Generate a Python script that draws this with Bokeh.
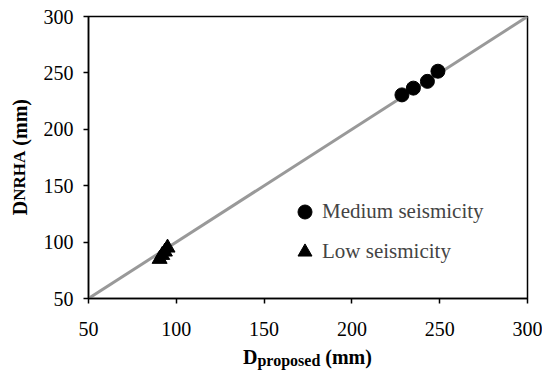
from bokeh.plotting import figure
from bokeh.models import Legend, LegendItem, Range1d, FixedTicker, Div
from bokeh.layouts import column, row
from bokeh.embed import file_html
from bokeh.resources import INLINE

# data
medium_x = [228.5, 235.0, 243.0, 249.0]
medium_y = [230.5, 236.5, 242.5, 251.5]
low_x = [90.5, 92.0, 93.5, 95.0]
low_y = [85.0, 88.5, 91.5, 95.0]
line_x = [50, 300]
line_y = [50, 300]
ticks = [50, 100, 150, 200, 250, 300]
series_labels = ["Medium seismicity", "Low seismicity"]

SERIF = "Liberation Serif"

p = figure(width=502, height=345, output_backend="svg", toolbar_location=None,
           x_range=Range1d(50, 300), y_range=Range1d(50, 300),
           min_border_left=48, min_border_right=15, min_border_top=16, min_border_bottom=47)
p.background_fill_color = "white"
p.border_fill_color = "white"
p.outline_line_color = "black"
p.outline_line_width = 1.5
p.grid.visible = False

for ax in (p.xaxis[0], p.yaxis[0]):
    ax.ticker = FixedTicker(ticks=ticks)
    ax.minor_tick_line_color = None
    ax.major_tick_in = 0
    ax.major_tick_out = 5
    ax.major_tick_line_width = 1.5
    ax.axis_line_width = 1.5
    ax.major_label_text_font = SERIF
    ax.major_label_text_font_size = "20px"
    ax.major_label_text_color = "black"
p.xaxis[0].major_label_standoff = 18
p.yaxis[0].major_label_standoff = 10

p.line(line_x, line_y, line_color="#999999", line_width=3)
r_med = p.scatter(medium_x, medium_y, marker="circle", size=14, fill_color="black", line_color="black")
r_low = p.scatter(low_x, low_y, marker="triangle", size=15, fill_color="black", line_color="black")

legend = Legend(items=[LegendItem(label=series_labels[0], renderers=[r_med]),
                       LegendItem(label=series_labels[1], renderers=[r_low])],
                location=(199, 29), orientation="vertical",
                glyph_width=35, glyph_height=35, label_height=35, spacing=5,
                label_standoff=0, padding=0, margin=0,
                label_text_font=SERIF, label_text_font_size="21px",
                border_line_color=None, background_fill_alpha=0)
p.add_layout(legend, "center")

font_css = "font-family:'Liberation Serif'; font-weight:bold; color:black; white-space:nowrap;"

ylabel = Div(width=40, height=345, margin=0,
             text=('<div style="height:314px; width:40px; display:flex; align-items:center; '
                   'justify-content:center;">'
                   '<span style="writing-mode:vertical-rl; transform:rotate(180deg); font-size:20px; '
                   'line-height:22px; ' + font_css + '">D<span style="font-size:17px">NRHA</span> (mm)</span>'
                   '</div>'))

xlabel = Div(width=542, height=25, margin=0,
             text=('<div style="padding-left:243px; padding-top:2px; font-size:20px; line-height:20px; '
                   + font_css + '">D<span style="font-size:16px; vertical-align:-2px">proposed</span> (mm)</div>'))

layout = column(row(ylabel, p, spacing=0), xlabel, spacing=0)

open("out.html", "w").write(file_html(layout, INLINE))
